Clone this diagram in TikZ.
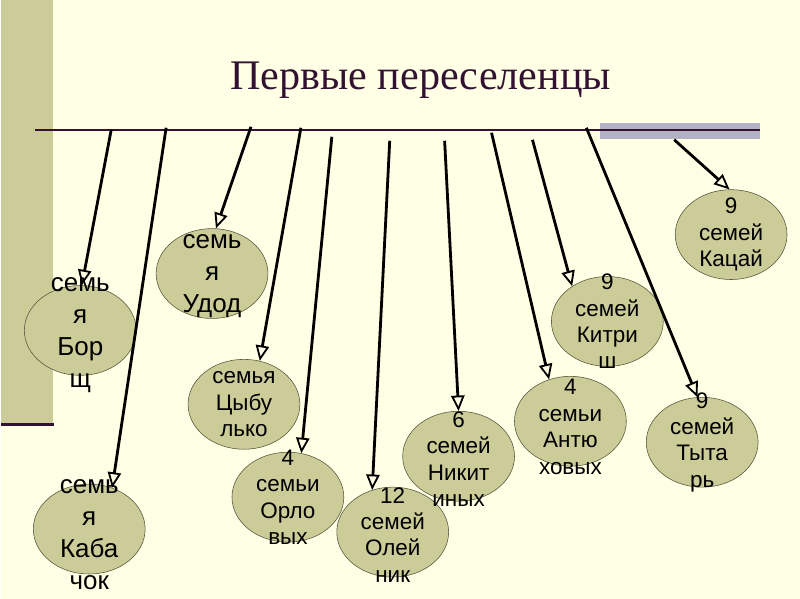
\documentclass[tikz,border=0pt]{standalone}
\usepackage{fontspec}
\setmainfont{Liberation Serif}
\newfontfamily\famfont{Liberation Sans}
\usetikzlibrary{arrows.meta,shapes.geometric}
\definecolor{slidebg}{RGB}{255,255,229}
\definecolor{olivebar}{RGB}{204,204,153}
\definecolor{plumline}{RGB}{51,17,51}
\definecolor{greybar}{RGB}{178,178,196}
\definecolor{famfill}{RGB}{204,204,153}
\definecolor{famdraw}{RGB}{85,85,60}

\begin{document}
\begin{tikzpicture}[
    x=0.025cm,y=-0.025cm,
    fam/.style={ellipse,draw=famdraw,fill=famfill,thin,inner sep=0pt,
      minimum width=2.8cm,minimum height=2.25cm},
    famtxt/.style={align=center,inner sep=0pt,font=\famfont\fontsize{16}{18.8}\selectfont},
    bigtxt/.style={align=center,inner sep=0pt,font=\famfont\fontsize{18.5}{22.8}\selectfont},
    arrow/.style={-{Triangle[open,length=11pt,width=9.5pt,line width=1.3pt]},line width=2pt}
  ]
    % slide background
    \fill[slidebg] (0,0) rectangle (800,600);
    \fill[olivebar] (0,0) rectangle (52,425);
    \draw[plumline,line width=2pt] (0,425) -- (53,425);
    \fill[greybar] (600,123) rectangle (760,139);
    \draw[plumline,line width=1.5pt] (34,130) -- (760,130);
    \node[font=\fontsize{30}{36}\selectfont,text=plumline,anchor=base] (title) at (420,90) {Первые переселенцы};

    % families
    \node[fam] (borsch) at (79,331) {};
    \node[fam] (kabachok) at (88,530) {};
    \node[fam] (udod) at (211,274) {};
    \node[fam] (cybulko) at (243,405) {};
    \node[fam] (orlov) at (287,498) {};
    \node[fam] (olejnik) at (392,533) {};
    \node[fam] (nikitin) at (458,457) {};
    \node[fam] (antyuh) at (570,422) {};
    \node[fam] (kitrish) at (607,322) {};
    \node[fam] (tytar) at (702,443) {};
    \node[fam] (kacaj) at (731,235) {};

    % start points on the line
    \coordinate (s1) at (110,130);
    \coordinate (s2) at (165,128);
    \coordinate (s3) at (250,127);
    \coordinate (s4) at (300,128);
    \coordinate (s5) at (331,137);
    \coordinate (s6) at (389,141);
    \coordinate (s7) at (444,141);
    \coordinate (s8) at (491,133);
    \coordinate (s9) at (532,140);
    \coordinate (s10) at (586,128);
    \coordinate (s11) at (674,140);

    \draw[arrow] (s1) -- (borsch.88);
    \draw[arrow] (s2) -- (kabachok.61);
    \draw[arrow] (s3) -- (udod.85);
    \draw[arrow] (s4) -- (cybulko.70);
    \draw[arrow] (s5) -- (orlov.73);
    \draw[arrow] (s6) -- (olejnik.116);
    \draw[arrow] (s7) -- (nikitin.90);
    \draw[arrow] (s8) -- (antyuh.117);
    \draw[arrow] (s9) -- (kitrish.135);
    \draw[arrow] (s10) -- (tytar.96);
    \draw[arrow] (s11) -- (kacaj.92);

    \node[bigtxt] (borsch-t) at ([yshift=-3]borsch) {семь\\я\\Бор\\щ};
    \node[bigtxt] (kabachok-t) at ([yshift=-4]kabachok) {семь\\я\\Каба\\чок};
    \node[bigtxt] (udod-t) at ([yshift=-2]udod) {семь\\я\\Удод};
    \node[famtxt] (cybulko-t) at (cybulko) {семья\\Цыбу\\лько};
    \node[famtxt] (orlov-t) at (orlov) {4\\семьи\\Орло\\вых};
    \node[famtxt] (olejnik-t) at ([yshift=-2]olejnik) {12\\семей\\Олей\\ник};
    \node[famtxt] (nikitin-t) at ([yshift=-2]nikitin) {6\\семей\\Никит\\иных};
    \node[famtxt] (antyuh-t) at ([yshift=-4]antyuh) {4\\семьи\\Антю\\ховых};
    \node[famtxt] (kitrish-t) at (kitrish) {9\\семей\\Китри\\ш};
    \node[famtxt] (tytar-t) at (tytar) {9\\семей\\Тыта\\рь};
    \node[famtxt] (kacaj-t) at (kacaj) {9\\семей\\Кацай};
\end{tikzpicture}
\end{document}
